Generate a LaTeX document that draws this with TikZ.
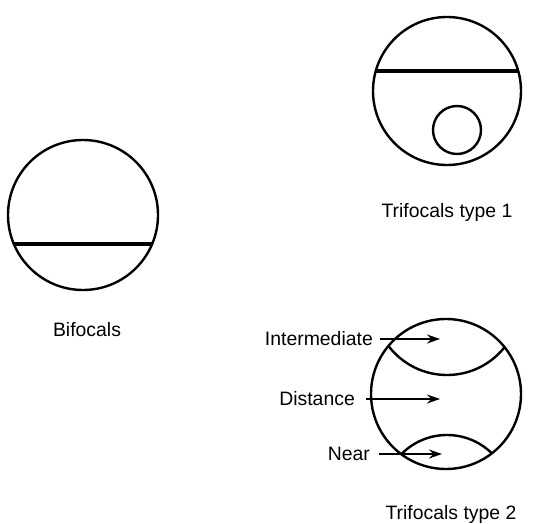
\documentclass[tikz,border=0pt]{standalone}
\usepackage{fontspec}
\setmainfont{Liberation Sans}
\usetikzlibrary{arrows.meta,positioning}

\begin{document}
\begin{tikzpicture}[x=1pt,y=-1pt,
        lens/.style={draw,circle,line width=2.4pt,inner sep=0pt,
                     outer sep=0pt,minimum size=#1},
        lbl/.style={font=\fontsize{19.4}{23}\selectfont,inner sep=2pt},
        seg/.style={line width=4.8pt},
        arr/.style={-{Stealth[length=13pt,width=9pt]},line width=1.6pt}]
        \useasboundingbox (0,0) rectangle (533,524);
        % bifocals
        \node[lens=150pt] (bif) at (83,215) {};
        \draw[seg] ([shift={(-69.2,29)}]bif.center) -- ([shift={(69.2,29)}]bif.center);
        \node[lbl,below=30pt of bif,xshift=4pt] (biflbl) {Bifocals};
        % trifocals type 1
        \node[lens=148pt] (tri1) at (447,91) {};
        \draw[seg] ([shift={(-71.2,-20)}]tri1.center) -- ([shift={(71.2,-20)}]tri1.center);
        \node[lens=48pt] (seg1) at (457,130) {};
        \node[lbl,below=36pt of tri1] (tri1lbl) {Trifocals type 1};
        % trifocals type 2
        \node[lens=150pt] (tri2) at (446,394) {};
        \begin{scope}
          \clip (tri2.center) circle[radius=75];
          \draw[line width=2.4pt] (447,301.5) circle[radius=73.5];
          \draw[line width=2.4pt] (447,499) circle[radius=64];
        \end{scope}
        \node[lbl,below=34pt of tri2,xshift=5pt] (tri2lbl) {Trifocals type 2};
        \coordinate (itip) at (440,339);
        \coordinate (dtip) at (440,399);
        \coordinate (ntip) at (442,454);
        \node[lbl,anchor=east] (inter) at (375,339) {Intermediate};
        \node[lbl,anchor=east] (dist) at (357,399) {Distance};
        \node[lbl,anchor=east] (near) at (372,454) {Near};
        \draw[arr,shorten <=5pt] (inter.east) -- (itip);
        \draw[arr,shorten <=9pt] (dist.east) -- (dtip);
        \draw[arr,shorten <=7pt] (near.east) -- (ntip);
      \end{tikzpicture}
\end{document}
